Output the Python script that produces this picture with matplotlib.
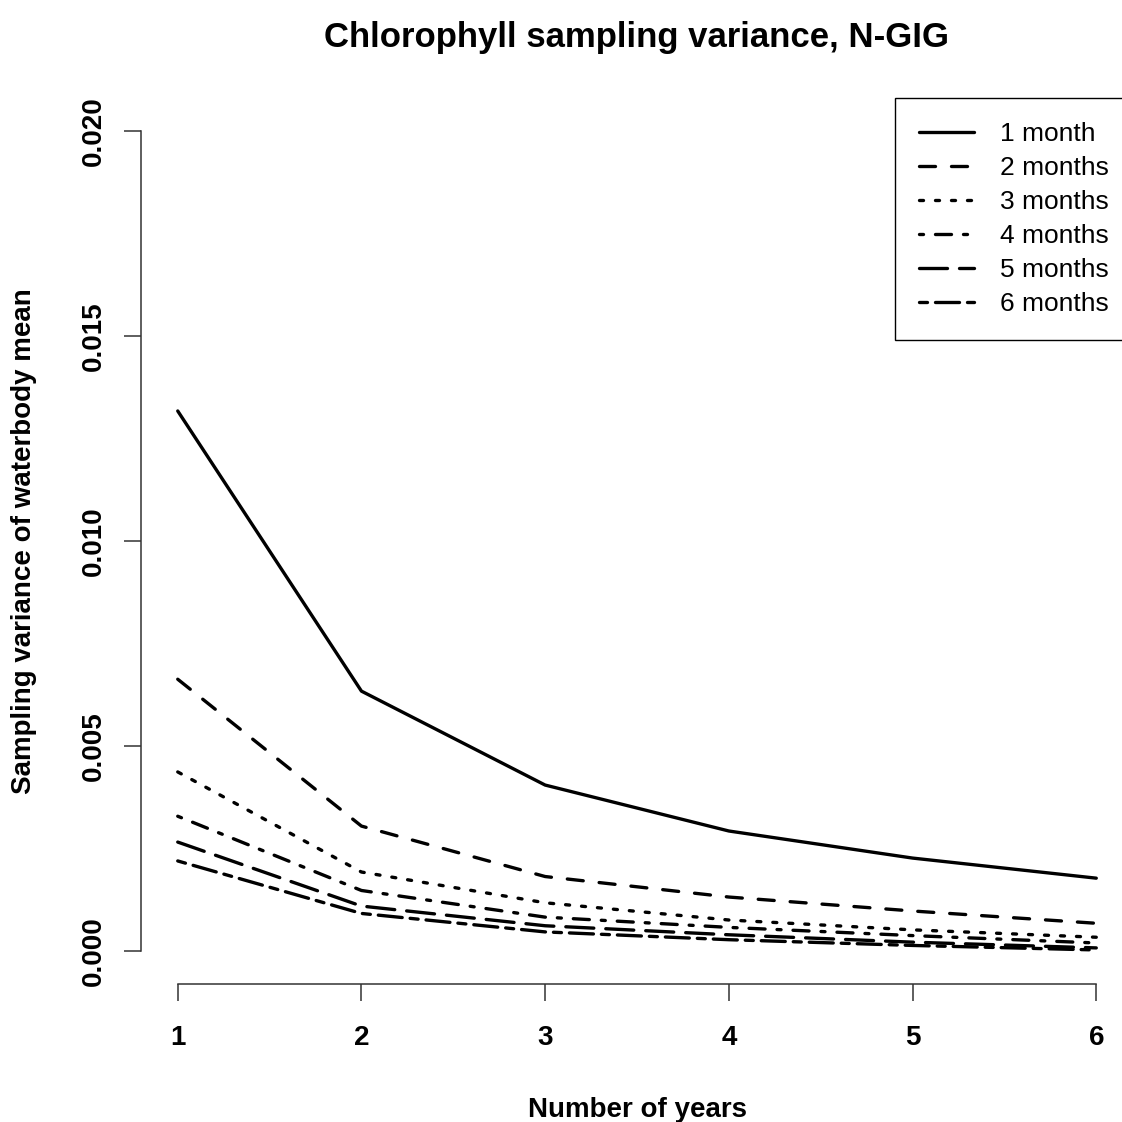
import matplotlib
matplotlib.use("Agg")
from matplotlib import pyplot as plt

plt.rcParams["font.family"] = ["Liberation Sans", "DejaVu Sans"]

# Werte
jahre = [1, 2, 3, 4, 5, 6]
monat_1 = [0.01317, 0.00634, 0.00405, 0.00293, 0.00227, 0.00178]
monat_2 = [0.00663, 0.00305, 0.00182, 0.00132, 0.00098, 0.00068]
monat_3 = [0.00437, 0.00193, 0.00118, 0.00076, 0.00052, 0.00034]
monat_4 = [0.00329, 0.00148, 0.00083, 0.00058, 0.00038, 0.00020]
monat_5 = [0.00266, 0.00110, 0.00062, 0.00040, 0.00022, 0.00008]
monat_6 = [0.00220, 0.00092, 0.00047, 0.00028, 0.00014, 0.00003]
labels = ["1 month", "2 months", "3 months", "4 months", "5 months", "6 months"]
y_ticks = [0.000, 0.005, 0.010, 0.015, 0.020]
y_ticklabels = ["0.000", "0.005", "0.010", "0.015", "0.020"]

# R lty 1..6 (solid, dashed, dotted, dotdash, longdash, twodash)
k = 1.2
stile = [
    "-",
    (0, (4 * k, 4 * k)),
    (0, (1 * k, 3 * k)),
    (0, (1 * k, 3 * k, 4 * k, 3 * k)),
    (0, (7 * k, 3 * k)),
    (0, (2 * k, 2 * k, 6 * k, 2 * k)),
]
serien = [monat_1, monat_2, monat_3, monat_4, monat_5, monat_6]

fig = plt.figure(figsize=(11.22, 11.22), dpi=100)
ax = fig.add_axes([141 / 1122, 138 / 1122, 992 / 1122, 886 / 1122])

for werte, ls, lab in zip(serien, stile, labels):
    ax.plot(jahre, werte, color="black", linestyle=ls, linewidth=2.4,
            dash_capstyle="round", solid_capstyle="round", label=lab)

ax.set_xlim(0.8, 6.2)
ax.set_ylim(-0.0008, 0.0208)

for s in ["top", "right"]:
    ax.spines[s].set_visible(False)
ax.spines["left"].set_bounds(0, 0.02)
ax.spines["bottom"].set_bounds(1, 6)
for s in ["left", "bottom"]:
    ax.spines[s].set_linewidth(1.1)
    ax.spines[s].set_color("#333333")

ax.set_xticks(jahre)
ax.set_yticks(y_ticks)
ax.set_yticklabels(y_ticklabels, rotation=90, va="center")
ax.tick_params(axis="both", direction="out", length=12.2, width=1.1,
               color="#333333", labelsize=20)
ax.tick_params(axis="x", pad=17.5)
ax.tick_params(axis="y", pad=12.5)
for t in ax.get_xticklabels() + ax.get_yticklabels():
    t.set_fontweight("bold")

ax.set_title("Chlorophyll sampling variance, N-GIG", fontsize=25,
             fontweight="bold", pad=37)
ax.set_xlabel("Number of years", fontsize=20, fontweight="bold")
ax.xaxis.label.set_va("baseline")
ax.xaxis.set_label_coords(0.5, -0.150)
ax.set_ylabel("Sampling variance of waterbody mean", fontsize=20,
              fontweight="bold")
ax.yaxis.set_label_coords(-0.1048, 0.5)

leg = ax.legend(loc="upper right", bbox_to_anchor=(1, 1), borderaxespad=0,
                fontsize=19, handlelength=2.08, handletextpad=1.0,
                labelspacing=0.38, borderpad=0.9, fancybox=False,
                framealpha=1, edgecolor="black")
leg.get_frame().set_linewidth(1.0)

fig.savefig("out.png", dpi=100)
